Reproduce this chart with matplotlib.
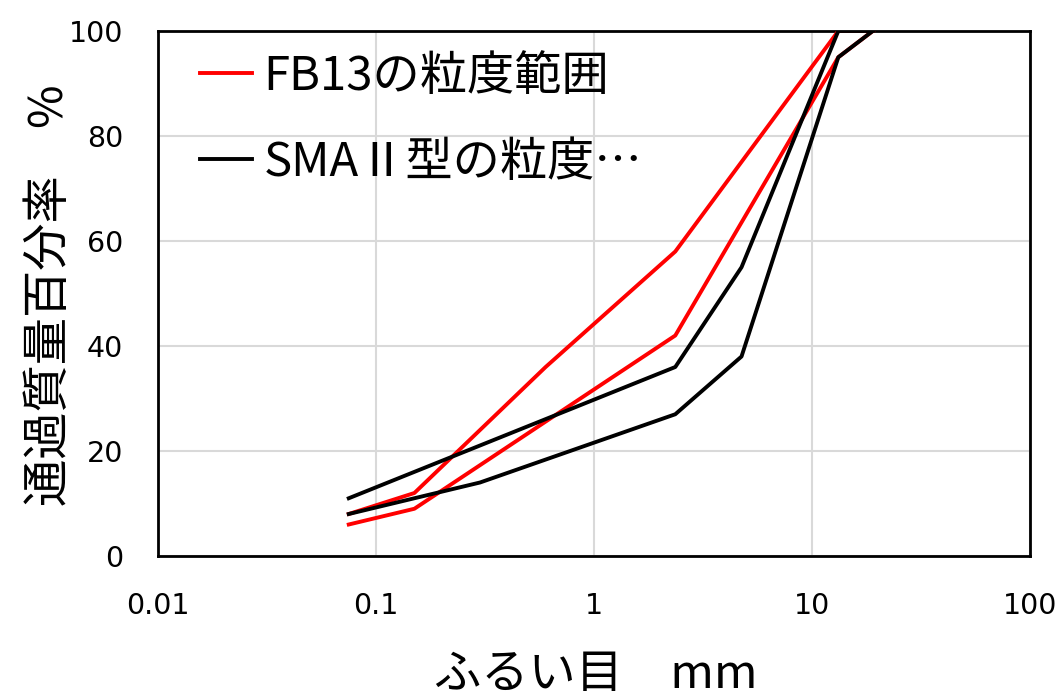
import matplotlib.pyplot as plt

plt.rcParams['font.family'] = ['DejaVu Sans', 'Noto Sans CJK JP']

# FB13 grading range (upper / lower limits)
fb_up_x = [0.075, 0.15, 0.6, 2.36, 13.2, 19]
fb_up_y = [8, 12, 36, 58, 100, 100]
fb_lo_x = [0.075, 0.15, 2.36, 13.2, 19]
fb_lo_y = [6, 9, 42, 95, 100]

# SMA type II grading range (upper / lower limits)
sma_up_x = [0.075, 2.36, 4.75, 13.2, 19]
sma_up_y = [11, 36, 55, 100, 100]
sma_lo_x = [0.075, 0.3, 2.36, 4.75, 13.2, 19]
sma_lo_y = [8, 14, 27, 38, 95, 100]

fig = plt.figure(figsize=(10.64, 7.0), dpi=100)
ax = fig.add_axes([158/1064, 1 - 556/700, (1030-158)/1064, (556-31)/700])

ax.plot(fb_up_x, fb_up_y, color='#ff0000', lw=2.8, label='FB13の粒度範囲', zorder=3)
ax.plot(fb_lo_x, fb_lo_y, color='#ff0000', lw=2.8, zorder=3)
ax.plot(sma_up_x, sma_up_y, color='black', lw=2.8, label='SMAⅡ型の粒度…', zorder=4)
ax.plot(sma_lo_x, sma_lo_y, color='black', lw=2.8, zorder=4)

ax.set_xscale('log')
ax.set_xlim(0.01, 100)
ax.set_ylim(0, 100)
ax.set_xticks([0.01, 0.1, 1, 10, 100])
ax.set_xticklabels(['0.01', '0.1', '1', '10', '100'])
ax.set_yticks([0, 20, 40, 60, 80, 100])
ax.minorticks_off()
ax.tick_params(length=0, labelsize=20.5)
ax.tick_params(axis='x', pad=26)
ax.tick_params(axis='y', pad=25)
ax.grid(True, color='#d9d9d9', lw=1.5)
ax.set_axisbelow(True)
for s in ax.spines.values():
    s.set_color('black')
    s.set_linewidth(2)

# axis titles
fig.text(596/1064, 12/700, 'ふるい目　mm', fontsize=34, ha='center', va='baseline',
         family=['Noto Sans CJK JP', 'DejaVu Sans'])
fig.text(50/1064, 1 - 295/700, '通過質量百分率　%', fontsize=34, rotation=90,
         ha='center', va='center', family=['Noto Sans CJK JP', 'DejaVu Sans'])

leg = ax.legend(loc='upper left', bbox_to_anchor=(0.048, 0.96), frameon=False,
                prop={'family': ['Noto Sans CJK JP', 'DejaVu Sans'], 'size': 34},
                handlelength=1.1, handletextpad=0.25, labelspacing=0.8,
                borderpad=0, borderaxespad=0)

fig.savefig('out.png', dpi=100)
